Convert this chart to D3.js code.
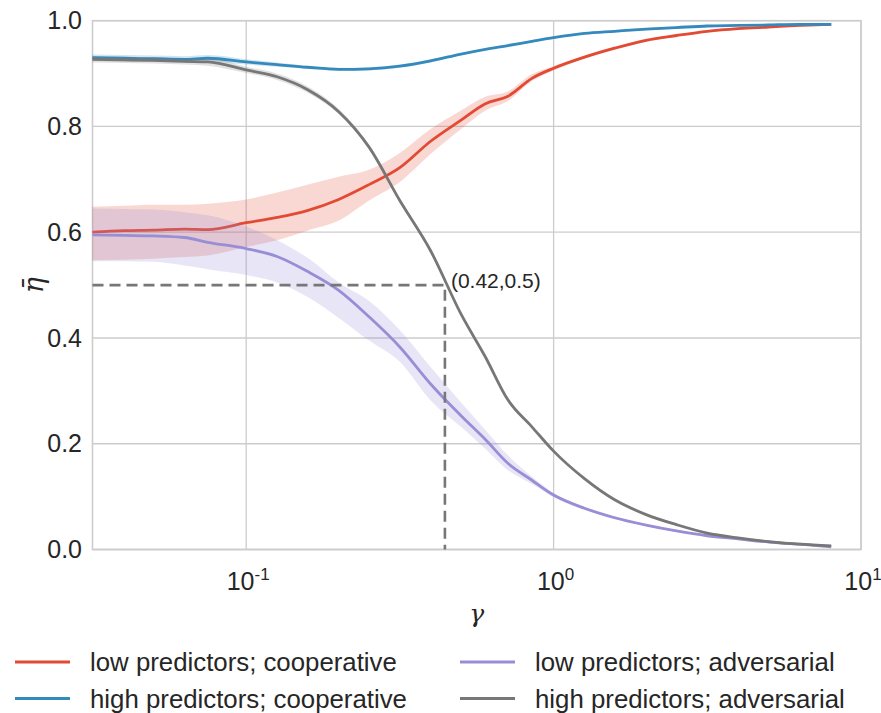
<!DOCTYPE html>
<html>
<head>
<meta charset="utf-8">
<script src="https://cdn.jsdelivr.net/npm/d3@7"></script>
<style>
  body { margin: 0; background: #fff; }
  svg text { font-family: "Liberation Sans", Arial, sans-serif; fill: #262626; }
</style>
</head>
<body>
<div id="canvas"></div>
<script>
// gamma values on the x axis (log scale)
var gammas = [0.0316, 0.04, 0.05, 0.063, 0.075, 0.1, 0.126, 0.158, 0.2, 0.251, 0.316, 0.398, 0.5,
              0.6, 0.71, 0.85, 1.0, 1.26, 1.58, 2.0, 2.51, 3.16, 3.98, 5.01, 6.31, 8.0];

// low predictors; cooperative
var lowCoop   = [0.600,0.603,0.604,0.606,0.605,0.618,0.628,0.641,0.662,0.690,0.722,0.772,0.812,
                 0.843,0.857,0.891,0.910,0.931,0.948,0.963,0.972,0.980,0.985,0.988,0.991,0.993];
var lowCoopLo = [0.547,0.548,0.550,0.553,0.556,0.572,0.585,0.603,0.622,0.660,0.695,0.748,0.795,
                 0.830,0.848,0.886,0.906,0.928,0.945,0.960,0.970,0.978,0.983,0.986,0.989,0.991];
var lowCoopHi = [0.648,0.650,0.652,0.652,0.654,0.662,0.675,0.690,0.705,0.718,0.750,0.795,0.830,
                 0.856,0.866,0.899,0.914,0.934,0.951,0.966,0.974,0.982,0.987,0.990,0.993,0.995];

// high predictors; cooperative
var highCoop    = [0.930,0.929,0.928,0.927,0.929,0.922,0.917,0.912,0.908,0.909,0.914,0.924,0.937,
                   0.946,0.953,0.961,0.968,0.976,0.980,0.984,0.987,0.990,0.991,0.992,0.993,0.993];
var highCoopErr = [0.006,0.006,0.006,0.006,0.006,0.005,0.004,0.003,0.003,0.003,0.003,0.003,0.002,
                   0.002,0.002,0.002,0.002,0.002,0.002,0.002,0.002,0.002,0.002,0.002,0.002,0.002];

// low predictors; adversarial
var lowAdv   = [0.595,0.594,0.593,0.590,0.581,0.569,0.554,0.526,0.490,0.440,0.383,0.313,0.253,
                0.208,0.163,0.131,0.103,0.078,0.060,0.046,0.035,0.026,0.020,0.014,0.010,0.005];
var lowAdvLo = [0.545,0.545,0.544,0.537,0.530,0.519,0.505,0.478,0.438,0.395,0.355,0.282,0.232,
                0.190,0.150,0.124,0.099,0.075,0.057,0.044,0.033,0.024,0.018,0.012,0.008,0.004];
var lowAdvHi = [0.645,0.644,0.643,0.638,0.632,0.611,0.585,0.552,0.505,0.470,0.415,0.345,0.278,
                0.226,0.178,0.138,0.107,0.081,0.063,0.048,0.037,0.028,0.022,0.016,0.012,0.006];

// high predictors; adversarial
var highAdv    = [0.927,0.926,0.925,0.923,0.922,0.907,0.894,0.870,0.828,0.761,0.660,0.565,0.445,
                  0.364,0.283,0.232,0.186,0.134,0.094,0.066,0.047,0.031,0.022,0.015,0.010,0.007];
var highAdvErr = [0.006,0.006,0.006,0.006,0.007,0.006,0.006,0.006,0.005,0.004,0.003,0.003,0.003,
                  0.003,0.004,0.002,0.002,0.002,0.002,0.002,0.002,0.002,0.002,0.002,0.002,0.002];

var yTicks = [0, 0.2, 0.4, 0.6, 0.8, 1.0];
var xTicks = [0.1, 1, 10];
var xTickExp = ['-1', '0', '1'];

var seriesNames = ['low predictors; cooperative', 'high predictors; cooperative',
                   'low predictors; adversarial', 'high predictors; adversarial'];
var seriesColors = ['#E24A33', '#348ABD', '#988ED5', '#777777'];

// crossing point marked with the dashed lines
var crossGamma = 0.443, crossEta = 0.5, crossLabel = '(0.42,0.5)';

var W = 881, H = 713;
var m = {t: 20.7, r: 20, b: 163.5, l: 92.5};

var svg = d3.select('#canvas').append('svg')
    .attr('width', W).attr('height', H);

var x = d3.scaleLog().domain([Math.pow(10, -1.5), 10]).range([m.l, 861]);
var y = d3.scaleLinear().domain([0, 1]).range([H - m.b, m.t]);

var grid = svg.append('g');
grid.selectAll('.hg').data(yTicks).enter().append('line')
    .attr('x1', m.l).attr('x2', 861)
    .attr('y1', function(d){ return y(d); }).attr('y2', function(d){ return y(d); })
    .attr('stroke', '#cccccc').attr('stroke-width', 1.3);
grid.selectAll('.vg').data(xTicks).enter().append('line')
    .attr('x1', function(d){ return x(d); }).attr('x2', function(d){ return x(d); })
    .attr('y1', y(0)).attr('y2', y(1))
    .attr('stroke', '#cccccc').attr('stroke-width', 1.3);

// frame
svg.append('rect')
    .attr('x', m.l).attr('y', y(1))
    .attr('width', 861 - m.l).attr('height', y(0) - y(1))
    .attr('fill', 'none').attr('stroke', '#cccccc').attr('stroke-width', 1.6);

function rows(vals, lo, hi){
    return gammas.map(function(g, i){ return {g: g, v: vals[i], lo: lo[i], hi: hi[i]}; });
}
var series = [
    rows(lowCoop, lowCoopLo, lowCoopHi),
    rows(highCoop, highCoop.map(function(v,i){ return v - highCoopErr[i]; }),
                   highCoop.map(function(v,i){ return v + highCoopErr[i]; })),
    rows(lowAdv, lowAdvLo, lowAdvHi),
    rows(highAdv, highAdv.map(function(v,i){ return v - highAdvErr[i]; }),
                  highAdv.map(function(v,i){ return v + highAdvErr[i]; }))
];

var area = d3.area()
    .x(function(d){ return x(d.g); })
    .y0(function(d){ return y(d.lo); })
    .y1(function(d){ return y(d.hi); })
    .curve(d3.curveMonotoneX);
var line = d3.line()
    .x(function(d){ return x(d.g); })
    .y(function(d){ return y(d.v); })
    .curve(d3.curveMonotoneX);

var plot = svg.append('g');
series.forEach(function(s, i){
    plot.append('path').attr('d', area(s))
        .attr('fill', seriesColors[i]).attr('fill-opacity', 0.22).attr('stroke', 'none');
    plot.append('path').attr('d', line(s))
        .attr('fill', 'none').attr('stroke', seriesColors[i])
        .attr('stroke-width', 2.8).attr('stroke-linejoin', 'round');
});

// dashed marker lines
svg.append('path')
    .attr('d', 'M' + x.range()[0] + ',' + y(crossEta) + 'H' + x(crossGamma) + 'V' + y(0))
    .attr('fill', 'none').attr('stroke', '#777777').attr('stroke-width', 2.6)
    .attr('stroke-dasharray', '11,6');
svg.append('text')
    .attr('x', x(crossGamma) + 6).attr('y', y(crossEta) + 3)
    .attr('font-size', 21).text(crossLabel);

// y tick labels
svg.selectAll('.yl').data(yTicks).enter().append('text')
    .attr('x', 82).attr('y', function(d){ return y(d); })
    .attr('dy', '0.35em').attr('text-anchor', 'end')
    .attr('font-size', 25)
    .text(function(d){ return d3.format('.1f')(d); });

// x tick labels with exponents
var xl = svg.selectAll('.xl').data(xTicks).enter().append('text')
    .attr('x', function(d){ return x(d) + 2; }).attr('y', 590)
    .attr('text-anchor', 'middle').attr('font-size', 25);
xl.append('tspan').text('10');
xl.append('tspan').attr('font-size', 17).attr('dy', -10)
    .text(function(d, i){ return xTickExp[i]; });

// axis titles
svg.append('text')
    .attr('x', (m.l + 861) / 2).attr('y', 622)
    .attr('text-anchor', 'middle').attr('font-size', 25)
    .attr('font-style', 'italic').style('font-family', '"DejaVu Serif", serif')
    .text('\u03B3');
svg.append('text')
    .attr('transform', 'translate(43,' + ((y(0) + y(1)) / 2) + ') rotate(-90)')
    .attr('text-anchor', 'middle').attr('font-size', 27)
    .attr('font-style', 'italic').style('font-family', '"DejaVu Serif", serif')
    .text('\u03B7\u0304');

// legend, two columns filled top to bottom
var legend = svg.append('g');
seriesNames.forEach(function(name, i){
    var col = Math.floor(i / 2), row = i % 2;
    var lx = col === 0 ? 15 : 460, ly = 662 + row * 36.5;
    legend.append('line')
        .attr('x1', lx).attr('x2', lx + 55).attr('y1', ly).attr('y2', ly)
        .attr('stroke', seriesColors[i]).attr('stroke-width', 2.8);
    legend.append('text')
        .attr('x', lx + 75).attr('y', ly).attr('dy', '0.35em')
        .attr('font-size', 25.8).text(name);
});
</script>
</body>
</html>
